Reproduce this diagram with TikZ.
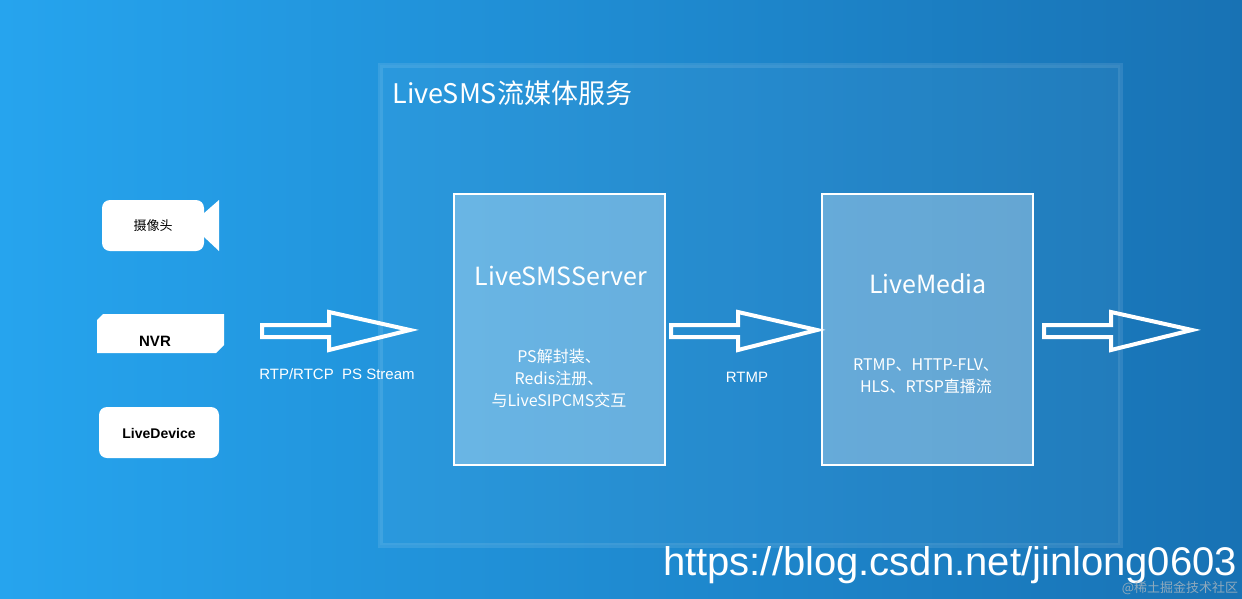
\documentclass[tikz,border=0pt]{standalone}
\usepackage{fontspec}
\setmainfont{Liberation Sans}
\newfontfamily\cjk{Noto Sans CJK SC}
\newfontfamily\cjkserif{Noto Sans CJK SC}
\begin{document}
\begin{tikzpicture}[x=1pt,y=-1pt,
  hollow/.style={draw=white,line width=4pt,line join=miter},
  svc/.style={draw=white,line width=1.5pt,fill=white,fill opacity=0.3,text opacity=1,minimum width=211pt,minimum height=271pt,anchor=north west},
  lbl/.style={text=white,font=\fontsize{15}{17}\selectfont},
  inner/.style={text=white,font=\cjk\fontsize{16}{22}\selectfont,align=center}]
\shade[left color={rgb,255:red,38;green,164;blue,238},right color={rgb,255:red,24;green,114;blue,180}] (0,0) rectangle (1242,598);
\useasboundingbox (0,0) rectangle (1242,598);
% service frame
\fill[white,opacity=0.04] (380,65) rectangle (1120,545);
\draw[white,opacity=0.1,line width=5pt] (380,65) rectangle (1120,545);
\node[anchor=west,text=white,font=\cjkserif\fontsize{27}{30}\selectfont] (title) at (389,93) {LiveSMS流媒体服务};
% service boxes
\node[svc] (srv) at (453,193) {};
\node[svc] (med) at (821,193) {};
\node[text=white,font=\cjk\fontsize{25}{28}\selectfont] (srvt) at (561,276) {LiveSMSServer};
\node[inner] (srvd) at (559,378) {PS解封装、\\Redis注册、\\与LiveSIPCMS交互};
\node[text=white,font=\cjk\fontsize{25}{28}\selectfont] (medt) at (928,284) {LiveMedia};
\node[inner] (medd) at (926,376) {RTMP、HTTP-FLV、\\HLS、RTSP直播流};
% devices
\fill[white,rounded corners=8pt] (102,200) rectangle (204,251);
\fill[white] (203,214) -- (219,200) -- (219,251) -- (203,236) -- cycle;
\node[text=black,font=\cjk\fontsize{13}{15}\selectfont] (cam) at (153,226) {摄像头};
\fill[white] (103,314) -- (224,314) -- (224,345) -- (216,353) -- (97,353) -- (97,320) -- cycle;
\node[text=black,font=\bfseries\fontsize{15}{17}\selectfont] (nvr) at (155,341) {NVR};
\fill[white,rounded corners=8pt] (99,407) rectangle (219,458);
\node[text=black,font=\bfseries\fontsize{14}{16}\selectfont] (ld) at (159,433) {LiveDevice};
% arrows
\draw[hollow] (262,325) -- (329,325) -- (329,312) -- (410,330) -- (329,350) -- (329,337) -- (262,337) -- cycle;
\draw[hollow] (671,325) -- (738,325) -- (738,312) -- (817,330) -- (738,350) -- (738,337) -- (671,337) -- cycle;
\draw[hollow] (1044,325) -- (1111,325) -- (1111,312) -- (1192,330) -- (1111,350) -- (1111,337) -- (1044,337) -- cycle;
\node[lbl] (l1) at (337,374) {RTP/RTCP\ \ PS Stream};
\node[lbl] (l2) at (747,377) {RTMP};
\node[text=white,font=\fontsize{40}{42}\selectfont] (url) at (950,565) {https://blog.csdn.net/jinlong0603};
\node[text=gray!50,font=\cjk\fontsize{13}{15}\selectfont,opacity=0.7] (wm) at (1180,588) {@稀土掘金技术社区};
\end{tikzpicture}
\end{document}
